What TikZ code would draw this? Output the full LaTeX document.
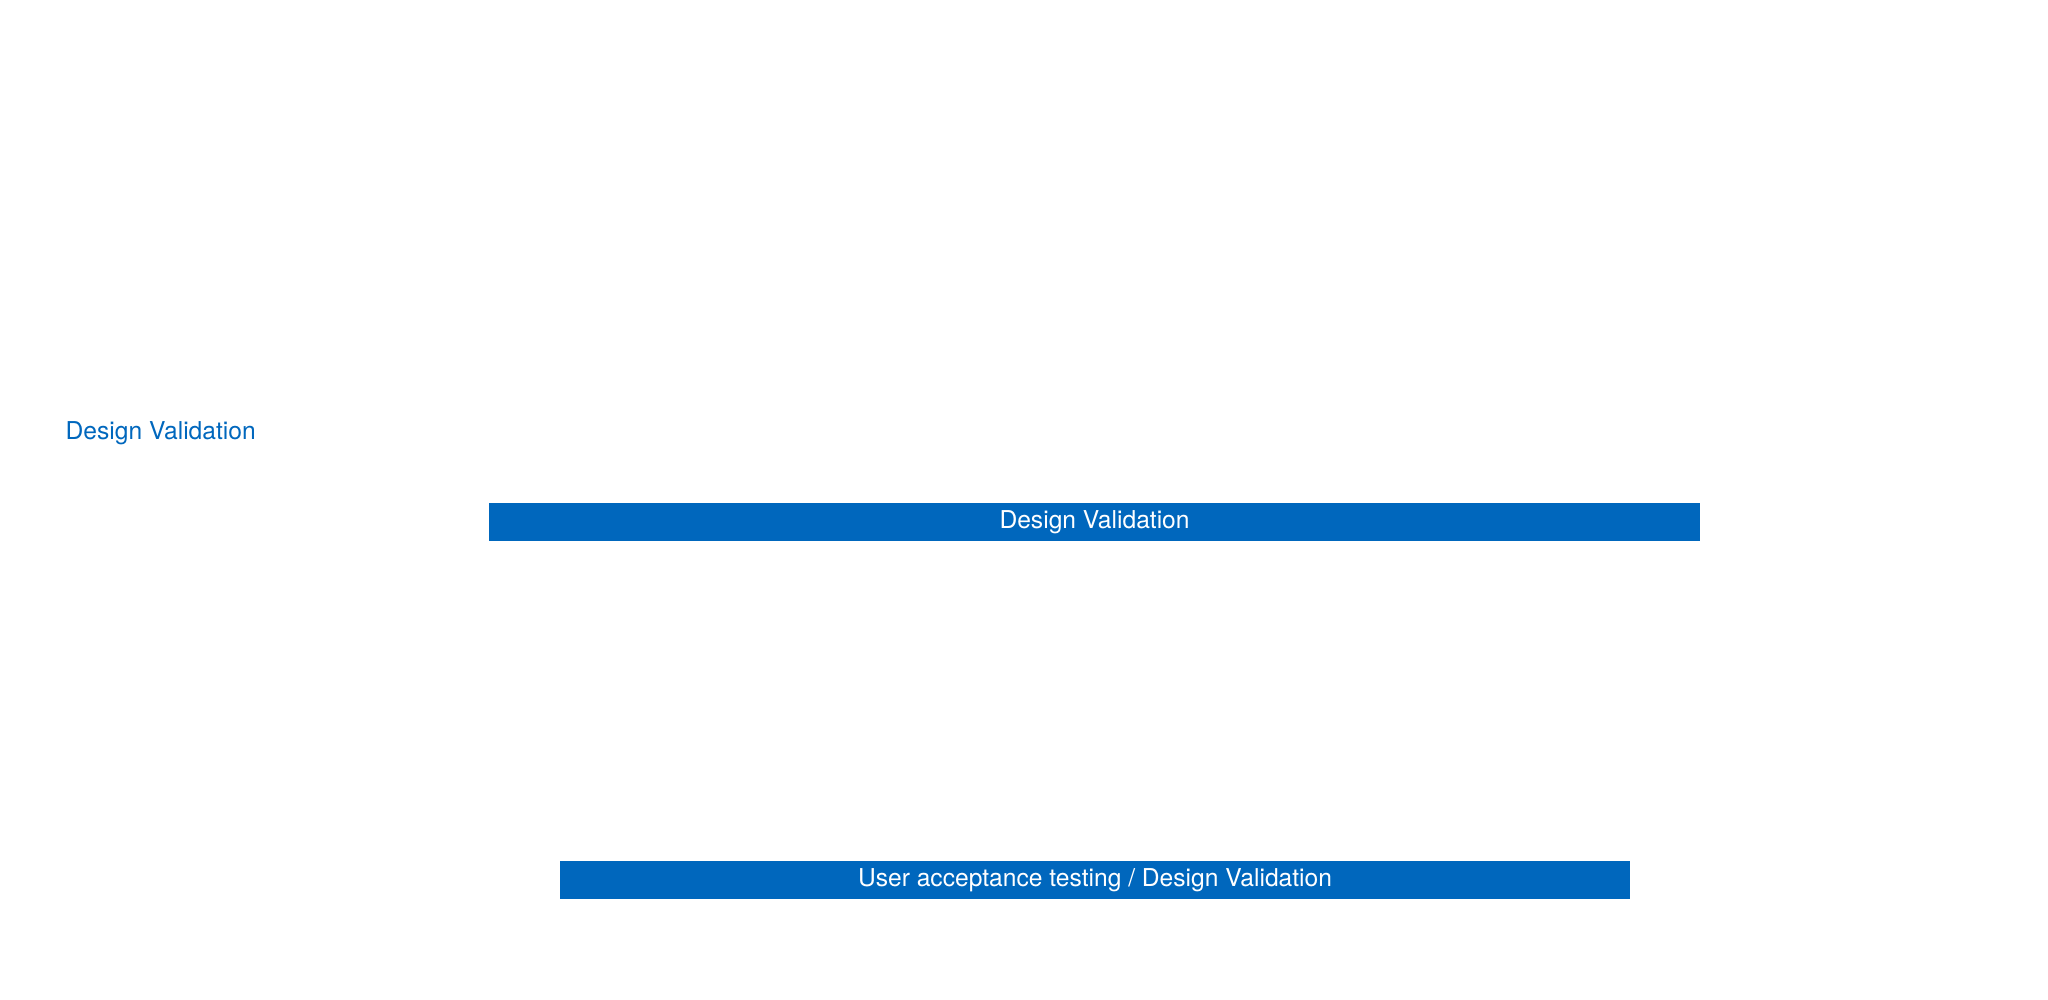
\documentclass[tikz,border=0pt]{standalone}
\usepackage{fontspec}
\setmainfont{TeX Gyre Heros}
\usepackage{xcolor}
\definecolor{myblue}{RGB}{0,103,189}
\usetikzlibrary{positioning}
\tikzstyle{bar} = [rectangle, fill=myblue, text=white, inner sep=0pt,
    minimum height=0.38cm, anchor=north west, font=\fontsize{7}{8}\selectfont]
\tikzstyle{heading} = [text=myblue, inner sep=0pt, anchor=base west, font=\fontsize{7}{8}\selectfont]

\begin{document}
\begin{tikzpicture}[x=0.01cm, y=-0.01cm]
\useasboundingbox (0,0) rectangle (2048,1000);
\node[heading] (title) at (65,439) {Design Validation};
\node[bar, minimum width=12.11cm] (validation) at (488,502) {Design Validation};
\node[bar, minimum width=10.70cm] (acceptance) at (559,860) {User acceptance testing / Design Validation};
\end{tikzpicture}
\end{document}
